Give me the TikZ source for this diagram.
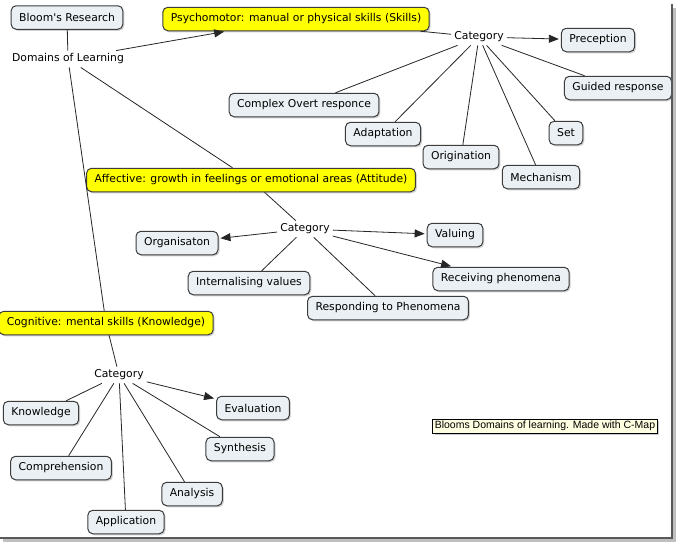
\documentclass[tikz,border=0pt]{standalone}
\usepackage{fontspec}
\setmainfont{DejaVu Sans}[Ligatures=TeXOff]
\newfontfamily\notefont{Liberation Sans}
\usetikzlibrary{arrows.meta, shadows}

\definecolor{conceptfill}{HTML}{EAF0F3}
\definecolor{conceptline}{HTML}{3C3C3C}
\definecolor{domainfill}{HTML}{FFFF00}
\definecolor{notefill}{HTML}{FFFFE1}

\tikzset{
  concept/.style={draw=conceptline, line width=1pt, fill=conceptfill, rounded corners=5pt,
    minimum height=23.5pt, inner xsep=8pt, text=black,
    drop shadow={shadow xshift=1.5pt, shadow yshift=-1.5pt, opacity=0.35},
    font=\fontsize{10.8}{12}\selectfont},
  domainbox/.style={concept, fill=domainfill},
  phrase/.style={inner sep=3pt, text=black, font=\fontsize{10.8}{12}\selectfont},
  note/.style={draw=black, line width=0.8pt, fill=notefill, inner sep=2pt,
    drop shadow={shadow xshift=2pt, shadow yshift=-2pt, opacity=0.4},
    font=\notefont\fontsize{10.5}{11}\selectfont},
  link/.style={draw=black!85, line width=0.8pt},
  arrowlink/.style={link, -{Triangle[length=10pt, width=8pt]}, shorten >=2pt},
}

\begin{document}
\begin{tikzpicture}[x=1pt, y=-1pt]
\useasboundingbox (0,0) rectangle (676,542);
\fill[white] (0,0) rectangle (676,542);

\node[concept] (bloom) at (67,17.5) {Bloom's Research};
\node[phrase] (domains) at (68,59) {Domains of Learning};
\node[domainbox] (psycho) at (296,19) {Psychomotor: manual or physical skills (Skills)};
\node[domainbox] (affect) at (251,180) {Affective: growth in feelings or emotional areas (Attitude)};
\node[domainbox] (cogn) at (106,323) {Cognitive: mental skills (Knowledge)};

\node[phrase] (psycat) at (479,37) {Category};
\node[concept] (preception) at (598,40) {Preception};
\node[concept] (guided) at (618,88) {Guided response};
\node[concept] (overt) at (304,105) {Complex Overt responce};
\node[concept] (adapt) at (383,134) {Adaptation};
\node[concept] (origin) at (461,157) {Origination};
\node[concept] (set) at (566,133) {Set};
\node[concept] (mechanism) at (541,177) {Mechanism};

\node[phrase] (affcat) at (305,229) {Category};
\node[concept] (organise) at (177,243) {Organisaton};
\node[concept] (valuing) at (455,235) {Valuing};
\node[concept] (internal) at (249,283) {Internalising values};
\node[concept] (receiving) at (501,279) {Receiving phenomena};
\node[concept] (responding) at (388,308) {Responding to Phenomena};

\node[phrase] (cogcat) at (119,375) {Category};
\node[concept] (knowledge) at (41,413) {Knowledge};
\node[concept] (evaluation) at (253,408) {Evaluation};
\node[concept] (comprehend) at (61,468) {Comprehension};
\node[concept] (synthesis) at (240,449) {Synthesis};
\node[concept] (analysis) at (192,494) {Analysis};
\node[concept] (application) at (126,522) {Application};

\node[note] (credit) at (545,426) {Blooms Domains of learning. Made with C-Map};

\draw[link] (bloom) -- (domains);
\draw[arrowlink] (domains) -- (psycho);
\draw[link] (domains) -- (affect);
\draw[link] (domains) -- (cogn);

\draw[link] (psycho) -- (psycat);
\draw[arrowlink] (psycat) -- (preception);
\draw[link] (psycat) -- (guided);
\draw[link] (psycat) -- (overt);
\draw[link] (psycat) -- (adapt);
\draw[link] (psycat) -- (origin);
\draw[link] (psycat) -- (set);
\draw[link] (psycat) -- (mechanism);

\draw[link] (affect) -- (affcat);
\draw[arrowlink] (affcat) -- (organise);
\draw[arrowlink] (affcat) -- (valuing);
\draw[arrowlink] (affcat) -- (receiving);
\draw[link] (affcat) -- (internal);
\draw[link] (affcat) -- (responding);

\draw[link] (cogn) -- (cogcat);
\draw[arrowlink] (cogcat) -- (evaluation);
\draw[link] (cogcat) -- (knowledge);
\draw[link] (cogcat) -- (comprehend);
\draw[link] (cogcat) -- (application);
\draw[link] (cogcat) -- (analysis);
\draw[link] (cogcat) -- (synthesis);

\fill[black!25] (673,8) rectangle (676,542);
\fill[black!25] (3,539) rectangle (676,542);
\fill[black!65] (671,4) rectangle (673,539);
\fill[black!65] (0,537) rectangle (673,539);
\end{tikzpicture}
\end{document}
